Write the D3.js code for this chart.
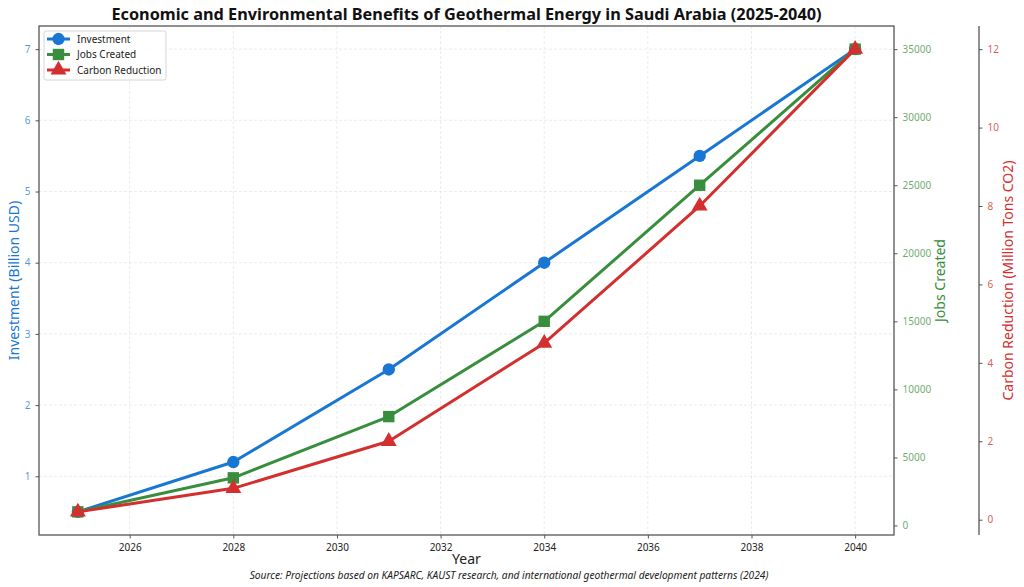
<!DOCTYPE html>
<html><head><meta charset="utf-8">
<script src="https://cdn.jsdelivr.net/npm/d3@7"></script>
<style>body{margin:0;background:#fff}svg{font-family:"Noto Sans","Open Sans",sans-serif}</style>
</head><body><svg id="c" width="1024" height="587"></svg>
<script>
const years = [2025, 2028, 2031, 2034, 2037, 2040];
const investment = [0.5, 1.2, 2.5, 4.0, 5.5, 7.0];
const jobs = [1000, 3500, 8000, 15000, 25000, 35000];
const carbon = [0.2, 0.8, 2.0, 4.5, 8.0, 12.0];
const xTicks = [2026, 2028, 2030, 2032, 2034, 2036, 2038, 2040];
const invTicks = [1, 2, 3, 4, 5, 6, 7];
const jobTicks = [0, 5000, 10000, 15000, 20000, 25000, 30000, 35000];
const carbonTicks = [0, 2, 4, 6, 8, 10, 12];
const seriesNames = ["Investment", "Jobs Created", "Carbon Reduction"];

const C = {blue: "#1976D2", green: "#388E3C", red: "#D32F2F"};
const L = 39, R = 894, T = 26, B = 535, R2 = 979;
const svg = d3.select("#c");

function padDomain(arr) {
  const mn = d3.min(arr), mx = d3.max(arr), m = (mx - mn) * 0.05;
  return [mn - m, mx + m];
}
const x = d3.scaleLinear().domain(padDomain(years)).range([L, R]);
const yI = d3.scaleLinear().domain(padDomain(investment)).range([B, T]);
const yJ = d3.scaleLinear().domain(padDomain(jobs)).range([B, T]);
const yC = d3.scaleLinear().domain(padDomain(carbon)).range([B, T]);

// grid
const g = svg.append("g");
g.selectAll(".gx").data(xTicks).enter().append("line")
  .attr("x1", d => x(d)).attr("x2", d => x(d)).attr("y1", T).attr("y2", B)
  .attr("stroke", "#b0b0b0").attr("stroke-opacity", 0.3).attr("stroke-dasharray", "3,2").attr("stroke-width", 0.8);
g.selectAll(".gy").data(invTicks).enter().append("line")
  .attr("x1", L).attr("x2", R).attr("y1", d => yI(d)).attr("y2", d => yI(d))
  .attr("stroke", "#b0b0b0").attr("stroke-opacity", 0.3).attr("stroke-dasharray", "3,2").attr("stroke-width", 0.8);

// axes
function styleAxis(sel, color) {
  sel.select(".domain").remove();
  sel.selectAll(".tick line").attr("stroke", "#555").attr("stroke-width", 1);
  sel.selectAll(".tick text").attr("fill", color).attr("font-size", 10).attr("font-family", "Noto Sans");
}
const ax = svg.append("g").attr("transform", `translate(0,${B})`)
  .call(d3.axisBottom(x).tickValues(xTicks).tickFormat(d3.format("d")).tickSize(3.5).tickPadding(5));
styleAxis(ax, "#222");
const ayI = svg.append("g").attr("transform", `translate(${L},0)`)
  .call(d3.axisLeft(yI).tickValues(invTicks).tickFormat(d3.format("d")).tickSize(3.5).tickPadding(5));
styleAxis(ayI, C.blue); ayI.selectAll(".tick text").attr("fill-opacity", 0.75);
const ayJ = svg.append("g").attr("transform", `translate(${R},0)`)
  .call(d3.axisRight(yJ).tickValues(jobTicks).tickFormat(d3.format("d")).tickSize(3.5).tickPadding(5));
styleAxis(ayJ, C.green); ayJ.selectAll(".tick text").attr("fill-opacity", 0.75);
const ayC = svg.append("g").attr("transform", `translate(${R2},0)`)
  .call(d3.axisRight(yC).tickValues(carbonTicks).tickFormat(d3.format("d")).tickSize(3.5).tickPadding(5));
styleAxis(ayC, C.red); ayC.selectAll(".tick text").attr("fill-opacity", 0.8);

// spines
svg.append("rect").attr("x", L).attr("y", T).attr("width", R - L).attr("height", B - T)
  .attr("fill", "none").attr("stroke", "#555").attr("stroke-width", 1.3);
svg.append("line").attr("x1", R2).attr("x2", R2).attr("y1", T).attr("y2", B)
  .attr("stroke", "#555").attr("stroke-width", 1.3);

// series
const series = [
  {name: seriesNames[0], vals: investment, y: yI, color: C.blue, marker: d3.symbolCircle, size: 120},
  {name: seriesNames[1], vals: jobs, y: yJ, color: C.green, marker: d3.symbolSquare, size: 130},
  {name: seriesNames[2], vals: carbon, y: yC, color: C.red, marker: d3.symbolTriangle, size: 110}
];
series.forEach(s => {
  const line = d3.line().x((d, i) => x(years[i])).y(d => s.y(d));
  svg.append("path").datum(s.vals).attr("d", line).attr("fill", "none")
    .attr("stroke", s.color).attr("stroke-width", 3).attr("stroke-linejoin", "round");
  svg.selectAll(null).data(s.vals).enter().append("path")
    .attr("d", d3.symbol().type(s.marker).size(s.size))
    .attr("transform", (d, i) => `translate(${x(years[i])},${s.y(d)})`)
    .attr("fill", s.color);
});

// axis labels
svg.append("text").attr("x", x(2032.5)).attr("y", 564).attr("text-anchor", "middle")
  .attr("font-size", 14).attr("fill", "#222").text("Year");
svg.append("text").attr("transform", `translate(19,${(T + B) / 2}) rotate(-90)`).attr("text-anchor", "middle")
  .attr("font-size", 14).attr("fill", C.blue).text("Investment (Billion USD)");
svg.append("text").attr("transform", `translate(945,${(T + B) / 2}) rotate(-90)`).attr("text-anchor", "middle")
  .attr("font-size", 14).attr("fill", C.green).text("Jobs Created");
svg.append("text").attr("transform", `translate(1013,${(T + B) / 2}) rotate(-90)`).attr("text-anchor", "middle")
  .attr("font-size", 14).attr("fill", C.red).text("Carbon Reduction (Million Tons CO2)");

// title & source
svg.append("text").attr("x", (L + R) / 2).attr("y", 20).attr("text-anchor", "middle")
  .attr("font-size", 16.3).attr("font-weight", "bold").attr("fill", "#111")
  .text("Economic and Environmental Benefits of Geothermal Energy in Saudi Arabia (2025-2040)");
svg.append("text").attr("x", 509).attr("y", 578.5).attr("text-anchor", "middle")
  .attr("font-size", 10.2).attr("font-style", "italic").attr("fill", "#222")
  .text("Source: Projections based on KAPSARC, KAUST research, and international geothermal development patterns (2024)");

// legend
const lg = svg.append("g");
lg.append("rect").attr("x", 44).attr("y", 31).attr("width", 122).attr("height", 49).attr("rx", 2)
  .attr("fill", "#fff").attr("fill-opacity", 0.8).attr("stroke", "#ccc").attr("stroke-width", 0.8);
series.forEach((s, i) => {
  const yy = 39 + i * 15.5;
  lg.append("line").attr("x1", 47).attr("x2", 70).attr("y1", yy).attr("y2", yy)
    .attr("stroke", s.color).attr("stroke-width", 3);
  lg.append("path").attr("d", d3.symbol().type(s.marker).size(s.size)).attr("transform", `translate(58.5,${yy})`)
    .attr("fill", s.color);
  lg.append("text").attr("x", 77).attr("y", yy + 3.5).attr("font-size", 10).attr("fill", "#222").text(s.name);
});
</script></body></html>
